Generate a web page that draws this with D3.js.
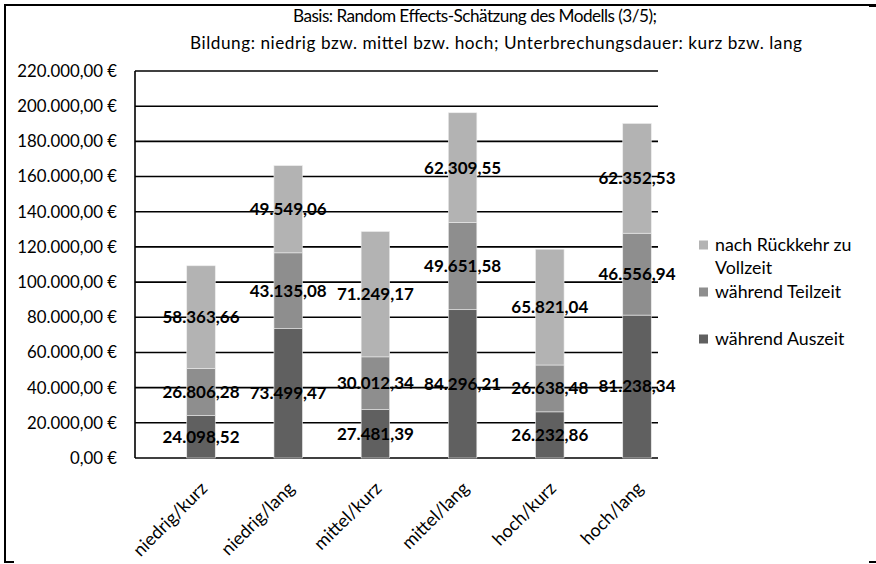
<!DOCTYPE html>
<html><head><meta charset="utf-8">
<script src="https://cdn.jsdelivr.net/npm/d3@7"></script>
<style>
html,body{margin:0;padding:0;background:#fff;}
svg{display:block;font-family:Lato,"Open Sans",sans-serif;}
</style></head>
<body><svg id="c" width="876" height="564"></svg>
<script>
const categories = ["niedrig/kurz","niedrig/lang","mittel/kurz","mittel/lang","hoch/kurz","hoch/lang"];
const seriesNames = ["während Auszeit","während Teilzeit","nach Rückkehr zu Vollzeit"];
const auszeit = [24098.52, 73499.47, 27481.39, 84296.21, 26232.86, 81238.34];
const teilzeit = [26806.28, 43135.08, 30012.34, 49651.58, 26638.48, 46556.94];
const vollzeit = [58363.66, 49549.06, 71249.17, 62309.55, 65821.04, 62352.53];
const yTicks = [0,20000,40000,60000,80000,100000,120000,140000,160000,180000,200000,220000];
const titleLines = ["Basis: Random Effects-Schätzung des Modells (3/5);",
  "Bildung: niedrig bzw. mittel bzw. hoch; Unterbrechungsdauer: kurz bzw. lang"];
const colors = ["#606060","#8e8e8e","#b3b3b3"];

const loc = d3.formatLocale({decimal:",",thousands:".",grouping:[3],currency:[""," €"]});
const fmt = loc.format(",.2f");

const svg = d3.select("#c");
// outer frame
svg.append("line").attr("x1",5).attr("x2",5).attr("y1",4).attr("y2",563).attr("stroke","#000").attr("stroke-width",2);
svg.append("line").attr("x1",4).attr("x2",876).attr("y1",5).attr("y2",5).attr("stroke","#000").attr("stroke-width",2);
svg.append("line").attr("x1",4).attr("x2",14).attr("y1",562).attr("y2",562).attr("stroke","#000").attr("stroke-width",2);
svg.append("line").attr("x1",869).attr("x2",876).attr("y1",562).attr("y2",562).attr("stroke","#000").attr("stroke-width",2);
svg.append("line").attr("x1",869).attr("x2",876).attr("y1",5.5).attr("y2",5.5).attr("stroke","#000").attr("stroke-width",3);

const plotL = 135, plotR = 658, plotT = 71, plotB = 458;
const y = d3.scaleLinear().domain([0,220000]).range([plotB,plotT]);
const x = d3.scalePoint().domain(categories).range([201,637]);
const barW = 28.5;

// title
svg.append("g").selectAll("text").data(titleLines).join("text")
  .attr("x",(d,i)=> i===0 ? 475 : 496).attr("y",(d,i)=>22+i*27)
  .attr("text-anchor","middle").attr("font-size",17.2)
  .attr("textLength",(d,i)=> i===0 ? 364 : 612).attr("lengthAdjust","spacing")
  .attr("fill","#000").text(d=>d);

// gridlines
svg.append("g").selectAll("line").data(yTicks).join("line")
  .attr("x1",plotL).attr("x2",plotR).attr("y1",d=>y(d)).attr("y2",d=>y(d))
  .attr("stroke","#000").attr("stroke-width",1.6);
// y axis line
svg.append("line").attr("x1",plotL).attr("x2",plotL).attr("y1",y(220000)).attr("y2",y(0))
  .attr("stroke","#000").attr("stroke-width",1.6);
// y tick labels
svg.append("g").selectAll("text").data(yTicks).join("text")
  .attr("x",117).attr("y",d=>y(d)).attr("dy","0.35em").attr("text-anchor","end")
  .attr("font-size",16.8).attr("fill","#000").text(d=>fmt(d)+" €");

// stacked data
const table = categories.map((c,i)=>({cat:c, a:auszeit[i], t:teilzeit[i], v:vollzeit[i]}));
const stack = d3.stack().keys(["a","t","v"])(table);

const gBars = svg.append("g");
stack.forEach((layer,li)=>{
  gBars.append("g").selectAll("rect").data(layer).join("rect")
    .attr("x",d=>x(d.data.cat)-barW/2).attr("width",barW)
    .attr("y",d=>y(d[1])).attr("height",d=>y(d[0])-y(d[1]))
    .attr("fill",colors[li]).attr("stroke","#ececec").attr("stroke-width",0.6);
});
const gLab = svg.append("g");
stack.forEach((layer,li)=>{
  gLab.append("g").selectAll("text").data(layer).join("text")
    .attr("x",d=>x(d.data.cat)).attr("y",d=>y((d[0]+d[1])/2)).attr("dy","0.35em")
    .attr("text-anchor","middle").attr("font-size",17).attr("font-weight","bold").attr("fill","#000")
    .text(d=>fmt(d[1]-d[0]));
});

// x labels
svg.append("g").selectAll("text").data(categories).join("text")
  .attr("transform",d=>`translate(${x(d)+3},${plotB+27}) rotate(-45)`)
  .attr("text-anchor","end").attr("dy","0.35em")
  .attr("font-size",18).attr("fill","#000").text(d=>d);

// legend
const legendItems = [
  {lines:["nach Rückkehr zu","Vollzeit"], color:colors[2], y:245},
  {lines:["während Teilzeit"], color:colors[1], y:292},
  {lines:["während Auszeit"], color:colors[0], y:339}
];
const lg = svg.append("g");
legendItems.forEach(it=>{
  lg.append("rect").attr("x",699).attr("y",it.y-4.5).attr("width",9).attr("height",9).attr("fill",it.color);
  it.lines.forEach((l,j)=>{
    lg.append("text").attr("x",715).attr("y",it.y+j*23).attr("dy","0.35em")
      .attr("font-size",17.8).attr("fill","#000").text(l);
  });
});
</script></body></html>
